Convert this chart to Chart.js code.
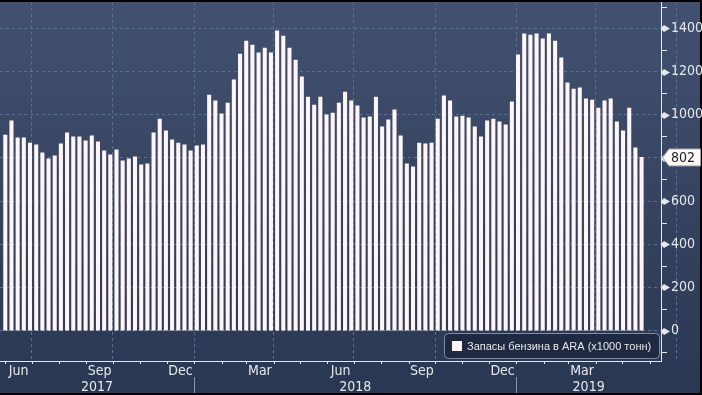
<!DOCTYPE html>
<html>
<head>
<meta charset="utf-8">
<script src="https://cdn.jsdelivr.net/npm/chart.js@4.4.1/dist/chart.umd.min.js"></script>
<style>
    html, body { margin: 0; padding: 0; background: #000; }
    #wrap { width: 702px; height: 395px; }
</style>
</head>
<body>
<div id="wrap"><canvas id="stocksChart" width="702" height="395"></canvas></div>
<script>
// weekly dates of the ARA gasoline stocks
const weeks = [
    '2017-06-01','2017-06-08','2017-06-15','2017-06-22','2017-06-29','2017-07-06','2017-07-13','2017-07-20',
    '2017-07-27','2017-08-03','2017-08-10','2017-08-17','2017-08-24','2017-08-31','2017-09-07','2017-09-14',
    '2017-09-21','2017-09-28','2017-10-05','2017-10-12','2017-10-19','2017-10-26','2017-11-02','2017-11-09',
    '2017-11-16','2017-11-23','2017-11-30','2017-12-07','2017-12-14','2017-12-21','2017-12-28',
    '2018-01-04','2018-01-11','2018-01-18','2018-01-25','2018-02-01','2018-02-08','2018-02-15','2018-02-22',
    '2018-03-01','2018-03-08','2018-03-15','2018-03-22','2018-03-29','2018-04-05','2018-04-12','2018-04-19',
    '2018-04-26','2018-05-03','2018-05-10','2018-05-17','2018-05-24','2018-05-31','2018-06-07','2018-06-14',
    '2018-06-21','2018-06-28','2018-07-05','2018-07-12','2018-07-19','2018-07-26','2018-08-02','2018-08-09',
    '2018-08-16','2018-08-23','2018-08-30','2018-09-06','2018-09-13','2018-09-20','2018-09-27','2018-10-04',
    '2018-10-11','2018-10-18','2018-10-25','2018-11-01','2018-11-08','2018-11-15','2018-11-22','2018-11-29',
    '2018-12-06','2018-12-13','2018-12-20','2018-12-27',
    '2019-01-03','2019-01-10','2019-01-17','2019-01-24','2019-01-31','2019-02-07','2019-02-14','2019-02-21',
    '2019-02-28','2019-03-07','2019-03-14','2019-03-21','2019-03-28','2019-04-04','2019-04-11','2019-04-18',
    '2019-04-25','2019-05-02','2019-05-09','2019-05-16','2019-05-23'
];

const stocks = [
    906, 971, 893, 893, 869, 860, 823, 795, 809, 865,
    916, 897, 897, 879, 902, 874, 833, 814, 837, 786,
    795, 805, 768, 772, 916, 980, 925, 883, 869, 860,
    833, 856, 860, 1091, 1064, 1004, 1054, 1161, 1281, 1341,
    1323, 1286, 1309, 1286, 1388, 1364, 1309, 1253, 1175, 1082,
    1045, 1082, 999, 1008, 1054, 1105, 1064, 1041, 985, 990,
    1082, 944, 976, 1022, 902, 772, 758, 869, 865, 869,
    980, 1087, 1064, 990, 994, 985, 944, 897, 971, 980,
    967, 953, 1059, 1277, 1374, 1369, 1374, 1351, 1374, 1341,
    1263, 1147, 1119, 1124, 1073, 1068, 1031, 1064, 1073, 967,
    925, 1031, 846, 802
];

const seriesLabel = 'Запасы бензина в ARA (x1000 тонн)';
const years = [2017, 2018, 2019];
const monthNames = ['Jan', 'Feb', 'Mar', 'Apr', 'May', 'Jun', 'Jul', 'Aug', 'Sep', 'Oct', 'Nov', 'Dec'];
const labelledMonths = [2, 5, 8, 11];
const yLabels = [0, 200, 400, 600, 800, 1000, 1200, 1400];
const yMinor = [-100, 100, 300, 500, 700, 900, 1100, 1300, 1500];

const FONT = '"Liberation Sans Narrow", "DejaVu Sans Condensed", sans-serif';
const TEXT = '#e6e8ec';
const BAR = '#fff5f5';
const GRID = '#5a7292';

// days since 2017-01-01
function dayNum(y, m, d) {
    return (Date.UTC(y, m, d) - Date.UTC(2017, 0, 1)) / 86400000;
}
function dateDay(s) {
    const p = s.split('-').map(Number);
    return dayNum(p[0], p[1] - 1, p[2]);
}

const points = weeks.map((w, i) => ({ x: dateDay(w), y: stocks[i] }));

// month boundaries covering the visible range
const monthStarts = [];
for (let y = 2017; y <= 2019; y++) {
    for (let m = 0; m < 12; m++) {
        monthStarts.push({ y: y, m: m, day: dayNum(y, m, 1), next: dayNum(y, m + 1, 1) });
    }
}

const decorPlugin = {
    id: 'decor',
    beforeDraw(chart) {
        const ctx = chart.ctx;
        ctx.save();
        ctx.fillStyle = '#000';
        ctx.fillRect(0, 0, chart.width, chart.height);
        const g = ctx.createLinearGradient(0, 2, 0, 393);
        g.addColorStop(0, '#425170');
        g.addColorStop(1, '#2a3752');
        ctx.fillStyle = g;
        ctx.fillRect(0, 2, 700, 391);
        ctx.restore();
    },
    afterDraw(chart) {
        const ctx = chart.ctx;
        const xs = chart.scales.x;
        const ys = chart.scales.y;
        const area = chart.chartArea;
        ctx.save();

        // x axis month ticks and labels
        ctx.strokeStyle = TEXT;
        ctx.lineWidth = 1;
        ctx.fillStyle = TEXT;
        ctx.font = '14px ' + FONT;
        ctx.textAlign = 'center';
        ctx.textBaseline = 'middle';
        monthStarts.forEach(ms => {
            const px = Math.round(xs.getPixelForValue(ms.day)) + 0.5;
            if (px >= area.left && px <= area.right) {
                ctx.beginPath();
                ctx.moveTo(px, area.bottom);
                ctx.lineTo(px, area.bottom + 3);
                ctx.stroke();
            }
            if (labelledMonths.includes(ms.m)) {
                const mid = xs.getPixelForValue((ms.day + ms.next) / 2);
                if (mid > area.left && mid < area.right) {
                    ctx.fillText(monthNames[ms.m], mid, area.bottom + 10);
                }
            }
        });

        // year row
        years.forEach(y => {
            const a = Math.max(xs.getPixelForValue(dayNum(y, 0, 1)), area.left);
            const b = Math.min(xs.getPixelForValue(dayNum(y + 1, 0, 1)), area.right);
            ctx.fillStyle = TEXT;
            ctx.fillText(String(y), (a + b) / 2, area.bottom + 26);
            const sep = xs.getPixelForValue(dayNum(y, 0, 1));
            if (sep > area.left && sep < area.right) {
                ctx.strokeStyle = '#8a95a8';
                ctx.beginPath();
                ctx.moveTo(Math.round(sep) + 0.5, area.bottom + 16);
                ctx.lineTo(Math.round(sep) + 0.5, area.bottom + 32);
                ctx.stroke();
            }
        });

        // right axis tick marks
        const ax = area.right;
        ctx.fillStyle = TEXT;
        ctx.strokeStyle = TEXT;
        yLabels.forEach(v => {
            const py = Math.round(ys.getPixelForValue(v)) + 0.5;
            ctx.beginPath();
            ctx.moveTo(ax, py - 0.5);
            ctx.lineTo(ax + 3, py - 3.5);
            ctx.lineTo(ax + 9, py);
            ctx.lineTo(ax + 3, py + 3.5);
            ctx.lineTo(ax, py + 0.5);
            ctx.closePath();
            ctx.fill();
        });
        yMinor.forEach(v => {
            const py = Math.round(ys.getPixelForValue(v)) + 0.5;
            ctx.beginPath();
            ctx.moveTo(ax, py);
            ctx.lineTo(ax + 6, py);
            ctx.stroke();
        });

        // legend box
        ctx.beginPath();
        ctx.roundRect(444.5, 333.5, 215, 25, 4);
        ctx.fillStyle = '#1f2a41';
        ctx.fill();
        ctx.strokeStyle = '#7f8ca3';
        ctx.stroke();
        ctx.fillStyle = BAR;
        ctx.fillRect(452, 341, 10, 10);
        ctx.fillStyle = TEXT;
        ctx.font = '11px "Liberation Sans", sans-serif';
        ctx.textAlign = 'left';
        ctx.fillText(chart.data.datasets[0].label, 467, 346.5);

        // last value tag
        const last = stocks[stocks.length - 1];
        const ly = ys.getPixelForValue(last);
        ctx.beginPath();
        ctx.moveTo(ax + 1.5, ly);
        ctx.lineTo(ax + 8, ly - 8.5);
        ctx.lineTo(700.5, ly - 8.5);
        ctx.lineTo(700.5, ly + 8.5);
        ctx.lineTo(ax + 8, ly + 8.5);
        ctx.closePath();
        ctx.fillStyle = '#fdf8f2';
        ctx.fill();
        ctx.strokeStyle = '#9aa0aa';
        ctx.stroke();
        ctx.fillStyle = '#182033';
        ctx.font = '14px ' + FONT;
        ctx.fillText(String(last), ax + 10, ly + 0.5);

        ctx.restore();
    }
};

new Chart(document.getElementById('stocksChart'), {
    type: 'bar',
    data: {
        datasets: [{
            label: seriesLabel,
            data: points,
            backgroundColor: BAR,
            borderWidth: 0,
            barThickness: 3.4
        }]
    },
    options: {
        responsive: false,
        devicePixelRatio: 1,
        animation: false,
        layout: { padding: { top: 2, left: 0, right: 0, bottom: 0 } },
        plugins: {
            legend: { display: false },
            tooltip: { enabled: false }
        },
        scales: {
            x: {
                type: 'linear',
                min: 145,
                max: 894,
                offset: false,
                afterBuildTicks: scale => {
                    scale.ticks = monthStarts
                        .filter(ms => ms.m % 3 === 0)
                        .map(ms => ({ value: ms.day }));
                },
                afterFit: scale => {
                    scale.height = 34;
                    scale.paddingLeft = 0;
                    scale.paddingRight = 0;
                },
                ticks: { display: false },
                grid: { color: GRID, lineWidth: 1, drawTicks: false, offset: false },
                border: { display: true, color: TEXT, width: 1, dash: [3, 3] }
            },
            y: {
                position: 'right',
                min: -141,
                max: 1522,
                afterBuildTicks: scale => {
                    scale.ticks = yLabels.map(v => ({ value: v }));
                },
                afterFit: scale => {
                    scale.width = 41;
                    scale.paddingTop = 0;
                    scale.paddingBottom = 0;
                },
                ticks: {
                    color: TEXT,
                    padding: 10,
                    font: { family: FONT, size: 14 },
                    callback: v => String(v)
                },
                grid: { color: GRID, lineWidth: 1, drawTicks: false },
                border: { display: true, color: TEXT, width: 1, dash: [3, 3] }
            }
        }
    },
    plugins: [decorPlugin]
});
</script>
</body>
</html>
